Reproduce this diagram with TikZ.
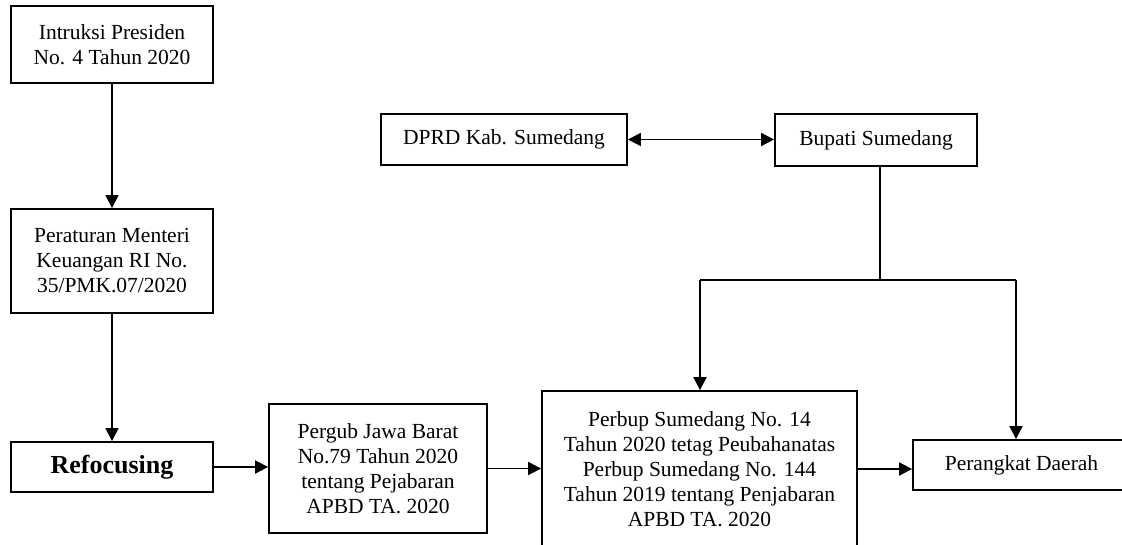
\documentclass[tikz,border=0pt]{standalone}
\usepackage{fontspec}
\setmainfont{Liberation Serif}
\usetikzlibrary{arrows.meta}
\begin{document}
\begin{tikzpicture}[x=1pt,y=-1pt,
  box/.style={draw, line width=1.8pt, align=center, inner sep=0pt, font=\fontsize{21.5}{25}\selectfont},
  conn/.style={line width=1.8pt, -{Triangle[length=13pt,width=13pt]}},
  biconn/.style={line width=1.8pt, {Triangle[length=13pt,width=13pt]}-{Triangle[length=13pt,width=13pt]}},
  plain/.style={line width=1.8pt}]
\clip (0,0) rectangle (1122,544);
\fill[white] (0,0) rectangle (1122,544);
\node[box, minimum width=202pt, minimum height=77pt] (a) at (112,44.5) {Intruksi Presiden\\No. 4 Tahun 2020};
\node[box, minimum width=202pt, minimum height=104pt] (b) at (112,261) {Peraturan Menteri\\Keuangan RI No.\\35/PMK.07/2020};
\node[box, minimum width=202pt, minimum height=50pt, font=\fontsize{26}{30}\selectfont\bfseries] (c) at (112,467) {Refocusing};
\node[box, minimum width=218pt, minimum height=129pt] (d) at (378,468.5) {Pergub Jawa Barat\\No.79 Tahun 2020\\tentang Pejabaran\\APBD TA. 2020};
\node[box, minimum width=315pt, minimum height=156pt] (e) at (699.5,469) {Perbup Sumedang No. 14\\Tahun 2020 tetag Peubahanatas\\Perbup Sumedang No. 144\\Tahun 2019 tentang Penjabaran\\APBD TA. 2020};
\node[box, minimum width=217pt, minimum height=50pt] (f) at (1021.5,465) {Perangkat Daerah};
\node[box, minimum width=246pt, minimum height=51pt] (g) at (504,139.5) {DPRD Kab. Sumedang};
\node[box, minimum width=202pt, minimum height=52pt] (h) at (876,140) {Bupati Sumedang};
\coordinate (split) at (880,280);
\coordinate (jl) at (700,280);
\coordinate (jr) at (1016,280);
\draw[conn] (a) -- (b);
\draw[conn] (b) -- (c);
\draw[conn] (c.east) -- (d.west |- c.east);
\draw[conn] (d.east) -- (e.west |- d.east);
\draw[conn] (e.east) -- (f.west |- e.east);
\draw[biconn] (g.east) -- (h.west |- g.east);
\draw[plain] (h.south -| split) -- (split);
\draw[plain] (jl) -- (jr);
\draw[conn] (jl) -- (e.north -| jl);
\draw[conn] (jr) -- (f.north -| jr);
\end{tikzpicture}
\end{document}
